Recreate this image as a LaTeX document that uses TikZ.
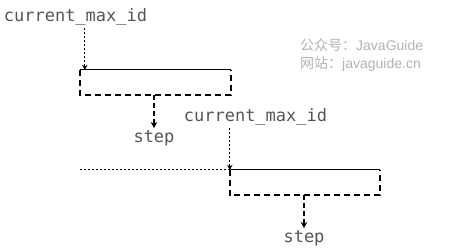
\documentclass[tikz,border=0pt]{standalone}
\usepackage{fontspec}
\usepackage{tikz}
\usetikzlibrary{arrows.meta,positioning,calc}
\newfontfamily\idfont{DejaVu Sans Mono}
\newfontfamily\cjkfont{Noto Sans CJK SC}
\newfontfamily\wmfont{Liberation Sans}
\definecolor{idgray}{RGB}{85,85,85}
\definecolor{wmgray}{RGB}{178,178,178}

\begin{document}
\begin{tikzpicture}[x=1pt, y=-1pt, >=Stealth,
    font=\idfont\fontsize{17}{20}\selectfont,
    idlabel/.style={text=idgray, inner sep=2pt},
    segbox/.style={rectangle, inner sep=0pt, minimum width=150pt, minimum height=25pt},
    fine/.style={dash pattern=on 2pt off 2pt, line width=0.8pt},
    ptr/.style={->, fine, >={Stealth[length=5pt,width=5.5pt]}},
    gapline/.style={dash pattern=on 6pt off 4pt, line width=1.8pt},
    steparrow/.style={->, line width=1.8pt, dash pattern=on 5pt off 3pt, >={Stealth[length=6pt,width=6.5pt]}}]
    \useasboundingbox (0,0) rectangle (461,249);

    % first segment
    \node[idlabel] (cur1) at (75.5, 17) {current\_max\_id};
    \node[segbox] (box1) at (155.5, 82.5) {};
    \node[idlabel] (step1) at (154, 138) {step};
    \coordinate (in1) at ([xshift=4.5pt]box1.north west);

    \draw[line width=1.2pt] (box1.north west) -- (box1.north east);
    \draw[gapline] (box1.north west) -- (box1.south west) -- (box1.south east) -- (box1.north east);
    \draw[ptr] (cur1.south -| in1) -- (in1);
    \draw[steparrow] (box1.south -| step1) -- (step1.north);

    % second segment
    \node[idlabel] (cur2) at (255.5, 117) {current\_max\_id};
    \node[segbox] (box2) at (305, 182.5) {};
    \node[idlabel] (step2) at (304, 238) {step};

    \draw[fine] (box1.south west |- box2.north west) -- (box2.north west);
    \draw[line width=1.2pt] (box2.north west) -- (box2.north east);
    \draw[gapline] (box2.north west) -- (box2.south west) -- (box2.south east) -- (box2.north east);
    \draw[ptr] (cur2.south -| box2.north west) -- (box2.north west);
    \draw[steparrow] (box2.south -| step2) -- (step2.north);

    % watermark
    \node[anchor=west, inner sep=0pt, text=wmgray, font=\fontsize{14}{16}\selectfont] (wm1) at (300, 45) {\cjkfont 公众号：\wmfont JavaGuide};
    \node[anchor=west, inner sep=0pt, text=wmgray, font=\fontsize{14}{16}\selectfont] (wm2) at (300, 64) {\cjkfont 网站：\wmfont javaguide.cn};
\end{tikzpicture}
\end{document}
